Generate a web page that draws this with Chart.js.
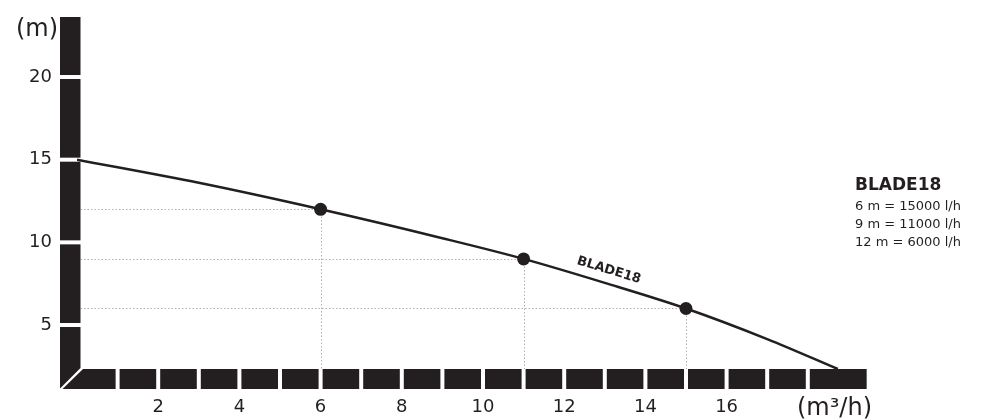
<!DOCTYPE html>
<html>
<head>
<meta charset="utf-8">
<script src="https://cdn.jsdelivr.net/npm/chart.js@4.4.1/dist/chart.umd.min.js"></script>
<style>
  html, body { margin: 0; padding: 0; background: #fff; }
  #wrap { width: 991px; height: 419px; position: relative; }
</style>
</head>
<body>
<div id="wrap"><canvas id="pumpChart"></canvas></div>
<script>
// BLADE18 pump curve: flow (m3/h) against head (m)
const curveFlow = [0, 3, 6, 9, 11, 13, 15, 17, 18.74];
const curveHead = [15, 13.6, 12, 10.25, 9, 7.55, 6, 4.15, 2.34];

// duty points marked on the curve
const dutyFlow = [6, 11, 15];
const dutyHead = [12, 9, 6];

const yTicks = [5, 10, 15, 20];
const xTicks = [2, 4, 6, 8, 10, 12, 14, 16];

const seriesName = "BLADE18";
const legendLines = ["6 m = 15000 l/h", "9 m = 11000 l/h", "12 m = 6000 l/h"];

const ink = '#231f20';
const font = '"DejaVu Sans", sans-serif';

// the thick segmented axes, dotted guides and the texts
const pumpDecor = {
  id: 'pumpDecor',
  beforeDatasetsDraw(chart) {
    const {ctx, chartArea: a, scales: {x, y}} = chart;
    ctx.save();
    ctx.strokeStyle = '#b0b0b0';
    ctx.lineWidth = 1;
    ctx.setLineDash([1.5, 2]);
    dutyFlow.forEach((q, i) => {
      const px = Math.round(x.getPixelForValue(q)) + 0.5;
      const py = Math.round(y.getPixelForValue(dutyHead[i])) + 0.5;
      ctx.beginPath();
      ctx.moveTo(a.left, py);
      ctx.lineTo(px, py);
      ctx.moveTo(px, py);
      ctx.lineTo(px, a.bottom);
      ctx.stroke();
    });
    ctx.restore();
  },
  afterDatasetsDraw(chart) {
    const {ctx, chartArea: a, scales: {x, y}} = chart;
    const bw = 20, gap = 4;
    ctx.save();
    ctx.fillStyle = ink;

    // vertical bar, broken at every y tick
    const yl = a.left - 17, yr = a.left + 3.5;
    let top = a.top;
    yTicks.slice().sort((m, n) => n - m).forEach(v => {
      const g = y.getPixelForValue(v);
      ctx.fillRect(yl, top, yr - yl, g - gap / 2 - top);
      top = g + gap / 2;
    });
    ctx.beginPath();
    ctx.moveTo(yl, top);
    ctx.lineTo(yr, top);
    ctx.lineTo(yr, a.bottom - 1);
    ctx.lineTo(yl, a.bottom + bw - 0.5);
    ctx.closePath();
    ctx.fill();

    // horizontal bar, broken at every whole m3/h
    const bt = a.bottom, bb = a.bottom + bw;
    let g = x.getPixelForValue(1);
    ctx.beginPath();
    ctx.moveTo(yr + 2.5, bt);
    ctx.lineTo(g - gap / 2, bt);
    ctx.lineTo(g - gap / 2, bb);
    ctx.lineTo(yl + 2.5, bb);
    ctx.closePath();
    ctx.fill();
    for (let q = 1; q <= 18; q++) {
      const s = x.getPixelForValue(q) + gap / 2;
      const e = q < 18 ? x.getPixelForValue(q + 1) - gap / 2 : x.getPixelForValue(19.45);
      ctx.fillRect(s, bt, e - s, bw);
    }

    // curve name along the line
    const p1 = {x: x.getPixelForValue(dutyFlow[1]), y: y.getPixelForValue(dutyHead[1])};
    const p2 = {x: x.getPixelForValue(dutyFlow[2]), y: y.getPixelForValue(dutyHead[2])};
    ctx.save();
    ctx.translate((p1.x + p2.x) / 2, (p1.y + p2.y) / 2);
    ctx.rotate(Math.atan2(p2.y - p1.y, p2.x - p1.x));
    ctx.font = 'bold 13px ' + font;
    ctx.textAlign = 'center';
    ctx.textBaseline = 'middle';
    ctx.fillText(seriesName, 0, -14);
    ctx.restore();

    // legend block on the right
    ctx.textAlign = 'left';
    ctx.textBaseline = 'middle';
    ctx.font = 'bold 17px ' + font;
    ctx.fillText(seriesName, 855, 186);
    ctx.font = '13px ' + font;
    legendLines.forEach((t, i) => ctx.fillText(t, 855, 207 + i * 18));

    // unit captions
    ctx.font = '24px ' + font;
    ctx.fillText('(m)', 16, 30);
    ctx.textBaseline = 'alphabetic';
    ctx.fillText('(m\u00b3/h)', 797, 415);
    ctx.restore();
  }
};

const config = {
  type: 'line',
  data: {
    datasets: [{
      label: seriesName,
      data: curveFlow.map((q, i) => ({x: q, y: curveHead[i]})),
      borderColor: ink,
      borderWidth: 2.5,
      pointRadius: 0,
      cubicInterpolationMode: 'monotone',
      fill: false
    }, {
      label: 'duty',
      data: dutyFlow.map((q, i) => ({x: q, y: dutyHead[i]})),
      showLine: false,
      pointRadius: 6.5,
      pointBackgroundColor: ink,
      pointBorderWidth: 0
    }]
  },
  options: {
    responsive: true,
    maintainAspectRatio: false,
    animation: false,
    layout: {padding: {top: 17, right: 102, left: 0, bottom: 0}},
    plugins: {legend: {display: false}, tooltip: {enabled: false}},
    scales: {
      x: {
        type: 'linear',
        min: 0,
        max: 20,
        grid: {display: false, drawTicks: false},
        border: {display: false},
        afterBuildTicks: s => { s.ticks = xTicks.map(v => ({value: v})); },
        afterFit: s => { s.height = 50; s.paddingLeft = 0; s.paddingRight = 0; },
        ticks: {color: ink, padding: 28, font: {family: font, size: 18}, maxRotation: 0, autoSkip: false}
      },
      y: {
        type: 'linear',
        min: 2.34,
        max: 23.63,
        grid: {display: false, drawTicks: false},
        border: {display: false},
        afterBuildTicks: s => { s.ticks = yTicks.map(v => ({value: v})); },
        afterFit: s => { s.width = 77; s.paddingTop = 0; s.paddingBottom = 0; },
        ticks: {color: ink, padding: 25, font: {family: font, size: 18}}
      }
    }
  },
  plugins: [pumpDecor]
};

const pumpChart = new Chart(document.getElementById('pumpChart'), config);
</script>
</body>
</html>
